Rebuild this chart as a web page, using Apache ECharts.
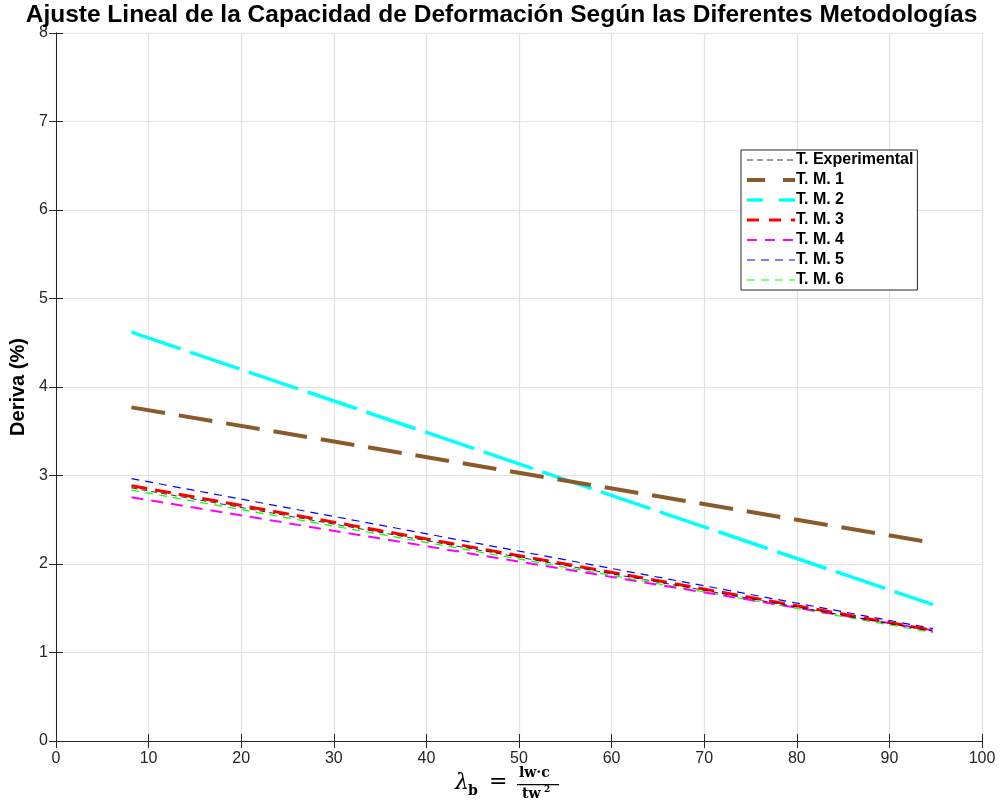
<!DOCTYPE html>
<html>
<head>
<meta charset="utf-8">
<script src="https://cdn.jsdelivr.net/npm/echarts@6/dist/echarts.min.js"></script>
<style>
  html, body { margin: 0; padding: 0; background: #fff; }
  #chart { width: 1003px; height: 805px; }
</style>
</head>
<body>
<div id="chart"></div>
<script>
// Slenderness values at which each fitted line is evaluated
const lambdaPoints = [8.15, 94.7];

// Drift (%) of each linear fit at those two points
const seriesNames = ['T. Experimental', 'T. M. 1', 'T. M. 2', 'T. M. 3', 'T. M. 4', 'T. M. 5', 'T. M. 6'];
const driftExperimental = [2.86, 1.24];
const driftTM1 = [3.77, 2.24];
const driftTM2 = [4.62, 1.54];
const driftTM3 = [2.885, 1.25];
const driftTM4 = [2.755, 1.25];
const driftTM5 = [2.965, 1.27];
const driftTM6 = [2.835, 1.225];

const xTicks = [0, 100, 10];
const yTicks = [0, 8, 1];

const driftSets = [driftExperimental, driftTM1, driftTM2, driftTM3, driftTM4, driftTM5, driftTM6];
const lineStyles = [
  { color: '#000000', width: 0.8, type: [6, 4] },
  { color: '#8B5A2B', width: 4, type: [34, 14] },
  { color: '#00FFFF', width: 3.5, type: [52, 10] },
  { color: '#FF0000', width: 3, type: [16, 8] },
  { color: '#FF00FF', width: 2, type: [12, 8] },
  { color: '#0000FF', width: 1.2, type: [8, 6] },
  { color: '#00FF00', width: 1.2, type: [8, 6] }
];
// Dash patterns used for the short legend samples
const legendDashes = [[6, 4], [18, 18], [16, 16], [12, 10], [10, 8], [8, 6], [8, 6]];

const series = driftSets.map((vals, i) => ({
  name: seriesNames[i],
  type: 'line',
  symbol: 'none',
  silent: true,
  data: lambdaPoints.map((x, k) => [x, vals[k]]),
  lineStyle: lineStyles[i],
  itemStyle: { color: lineStyles[i].color },
  z: 10 - i
}));

const tickFont = { fontFamily: 'Liberation Sans, Arial, sans-serif', fontSize: 16, color: '#262626' };
const axisCommon = {
  type: 'value',
  axisLine: { show: true, lineStyle: { color: '#262626', width: 1 } },
  axisTick: { show: true, inside: true, length: 7, lineStyle: { color: '#262626' } }
};

const chart = echarts.init(document.getElementById('chart'), null, { renderer: 'canvas' });
chart.setOption({
  animation: false,
  backgroundColor: '#ffffff',
  title: {
    text: 'Ajuste Lineal de la Capacidad de Deformación Según las Diferentes Metodologías',
    left: 'center',
    top: 0,
    padding: [2, 5, 0, 5],
    textStyle: { fontFamily: 'Liberation Sans, Arial, sans-serif', fontWeight: 'bold', fontSize: 24.5, lineHeight: 27, color: '#000' }
  },
  grid: { left: 56, right: 21, top: 33, bottom: 64, containLabel: false },
  legend: {
    orient: 'vertical',
    left: 741,
    top: 150,
    padding: [2, 4, 2, 4],
    itemGap: 4,
    itemWidth: 48,
    itemHeight: 15,
    backgroundColor: '#ffffff',
    borderColor: '#262626',
    borderWidth: 1,
    borderRadius: 0,
    itemStyle: { opacity: 0 },
    textStyle: { fontFamily: 'Liberation Sans, Arial, sans-serif', fontWeight: 'bold', fontSize: 16, color: '#000', padding: [0, 0, 0, -4] },
    data: seriesNames.map((n, i) => ({
      name: n,
      lineStyle: { type: legendDashes[i], width: lineStyles[i].width, color: lineStyles[i].color }
    }))
  },
  xAxis: [
    Object.assign({}, axisCommon, {
      min: xTicks[0], max: xTicks[1], interval: xTicks[2],
      axisLabel: Object.assign({ margin: 10 }, tickFont),
      splitLine: { show: true, lineStyle: { color: '#e2e2e2', width: 1.2 } }
    }),
    Object.assign({}, axisCommon, {
      position: 'top',
      min: xTicks[0], max: xTicks[1], interval: xTicks[2],
      axisLabel: { show: false },
      splitLine: { show: false }
    })
  ],
  yAxis: [
    Object.assign({}, axisCommon, {
      min: yTicks[0], max: yTicks[1], interval: yTicks[2],
      name: 'Deriva (%)',
      nameLocation: 'middle',
      nameGap: 21,
      nameTextStyle: { fontFamily: 'Liberation Sans, Arial, sans-serif', fontWeight: 'bold', fontSize: 20, color: '#000' },
      axisLabel: Object.assign({ margin: 8 }, tickFont),
      splitLine: { show: true, lineStyle: { color: '#e2e2e2', width: 1.2 } }
    }),
    Object.assign({}, axisCommon, {
      position: 'right',
      min: yTicks[0], max: yTicks[1], interval: yTicks[2],
      axisLabel: { show: false },
      splitLine: { show: false }
    })
  ],
  graphic: [
    {
      type: 'group',
      left: 455,
      top: 766,
      children: [
        { type: 'text', x: 0, y: 6, style: { text: 'λ', font: 'italic 22px DejaVu Serif, serif', fill: '#000' } },
        { type: 'text', x: 13, y: 18, style: { text: 'b', font: 'bold 14px DejaVu Serif, serif', fill: '#000' } },
        { type: 'text', x: 34, y: 5, style: { text: '=', font: '22px DejaVu Serif, serif', fill: '#000' } },
        { type: 'text', x: 64, y: 0, style: { text: 'lw·c', font: 'bold 14px DejaVu Serif, serif', fill: '#000' } },
        { type: 'rect', shape: { x: 62, y: 18, width: 42, height: 1.3 }, style: { fill: '#000' } },
        { type: 'text', x: 67, y: 21, style: { text: 'tw', font: 'bold 14px DejaVu Serif, serif', fill: '#000' } },
        { type: 'text', x: 89, y: 19, style: { text: '2', font: 'bold 9px DejaVu Serif, serif', fill: '#000' } }
      ]
    }
  ],
  series: series
});
</script>
</body>
</html>
